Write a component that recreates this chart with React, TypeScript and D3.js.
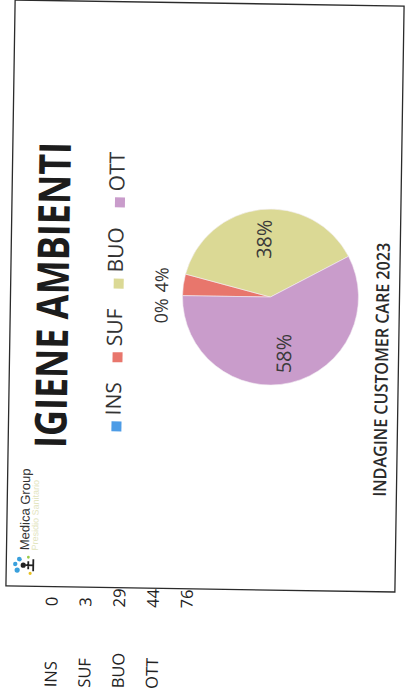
import React, { useEffect, useRef } from 'react';
import * as d3 from 'd3';

// values
const categories = ['INS', 'SUF', 'BUO', 'OTT'];
const counts = [0, 3, 29, 44];
const totalCount = 76;
const sliceColors = ['#4d9ce6', '#e8766c', '#dbd995', '#c99ccb'];

const chartTitle = 'IGIENE AMBIENTI';
const footerText = 'INDAGINE CUSTOMER CARE 2023';
const logoName = 'Medica Group';
const logoTagline = 'Presidio Sanitario';

const W = 406;
const H = 698;

// the printed chart sits sideways and a little crooked on the scan
const frame = { x: 10.5, y: 3, w: 389, h: 586 };
const skew = 0.9;

const FONT = "'Open Sans', 'DejaVu Sans', sans-serif";

export default function App() {
  const svgRef = useRef<SVGSVGElement>(null);

  useEffect(() => {
    if (!svgRef.current) return;
    const svg = d3.select(svgRef.current);
    svg.selectAll('*').remove();

    const fcx = frame.x + frame.w / 2;
    const fcy = frame.y + frame.h / 2;

    const sheet = svg.append('g')
      .attr('transform', `rotate(${skew},${fcx},${fcy})`);

    sheet.append('rect')
      .attr('x', frame.x)
      .attr('y', frame.y)
      .attr('width', frame.w)
      .attr('height', frame.h)
      .attr('fill', 'none')
      .attr('stroke', '#2b2b2b')
      .attr('stroke-width', 1.3);

    // upright chart space: x runs along the long side, y across
    const g = sheet.append('g')
      .attr('transform', `translate(${frame.x},${frame.y + frame.h}) rotate(-90)`);

    // title
    g.append('text')
      .attr('x', 138.6)
      .attr('y', 58)
      .attr('textLength', 306)
      .attr('lengthAdjust', 'spacingAndGlyphs')
      .style('font-family', FONT)
      .style('font-weight', 700)
      .style('font-size', '44px')
      .style('fill', '#1c1c1c')
      .text(chartTitle);

    // legend
    const legendG = g.append('g');
    const items: { x: number; w: number }[] = [];
    const marker = 10;
    const gapIn = 6;
    const gapOut = 20;
    const legendTexts = categories.map(c => legendG.append('text')
      .attr('y', 112)
      .style('font-family', FONT)
      .style('font-size', '21px')
      .style('fill', '#333')
      .text(c));
    let cursor = 0;
    legendTexts.forEach((t, i) => {
      const tw = (t.node() as SVGTextElement).getComputedTextLength();
      items.push({ x: cursor, w: tw });
      cursor += marker + gapIn + tw + (i < categories.length - 1 ? gapOut : 0);
    });
    const legendStart = 296 - cursor / 2;
    categories.forEach((c, i) => {
      legendG.append('rect')
        .attr('x', legendStart + items[i].x)
        .attr('y', 103)
        .attr('width', marker)
        .attr('height', marker)
        .attr('fill', sliceColors[i]);
      legendTexts[i].attr('x', legendStart + items[i].x + marker + gapIn);
    });

    // pie
    const cx = 293;
    const cy = 260;
    const r = 88;
    const pie = d3.pie<number>().sort(null).value(d => d);
    const arcs = pie(counts);
    const arc = d3.arc<d3.PieArcDatum<number>>().innerRadius(0).outerRadius(r);
    const labelArc = d3.arc<d3.PieArcDatum<number>>().innerRadius(r * 0.66).outerRadius(r * 0.66);
    const pct = d3.format('.0%');

    const pieG = g.append('g').attr('transform', `translate(${cx},${cy})`);
    pieG.selectAll('path')
      .data(arcs)
      .enter()
      .append('path')
        .attr('d', arc)
        .attr('fill', (_d, i) => sliceColors[i])
        .attr('stroke', '#f4eef4')
        .attr('stroke-width', 0.6);

    // big slices: label inside
    arcs.forEach((a, i) => {
      if (counts[i] / totalCount < 0.1) return;
      const [lx, ly] = labelArc.centroid(a);
      pieG.append('text')
        .attr('x', lx)
        .attr('y', ly)
        .attr('dy', '0.36em')
        .attr('text-anchor', 'middle')
        .style('font-family', FONT)
        .style('font-size', '20px')
        .style('fill', '#3a3a3a')
        .text(pct(counts[i] / totalCount));
    });

    // small slices: labels in a row above the pie
    const small = counts.map((v, i) => i).filter(i => counts[i] / totalCount < 0.1);
    const smallTexts = small.map(i => g.append('text')
      .attr('y', cy - r - 14.5)
      .style('font-family', FONT)
      .style('font-size', '18px')
      .style('fill', '#333')
      .text(pct(counts[i] / totalCount)));
    const widths = smallTexts.map(t => (t.node() as SVGTextElement).getComputedTextLength());
    const rowGap = 6;
    const rowW = d3.sum(widths) + rowGap * (widths.length - 1);
    let sx = cx - rowW / 2;
    smallTexts.forEach((t, k) => {
      t.attr('x', sx);
      sx += widths[k] + rowGap;
    });

    // footer
    g.append('text')
      .attr('x', 95)
      .attr('y', 378.5)
      .attr('textLength', 254)
      .attr('lengthAdjust', 'spacingAndGlyphs')
      .style('font-family', FONT)
      .style('font-weight', 600)
      .style('font-size', '18px')
      .style('fill', '#2a2a2a')
      .text(footerText);

    // logo
    const logo = g.append('g');
    logo.append('circle').attr('cx', 16).attr('cy', 11).attr('r', 2.6).attr('fill', '#3aa0dc');
    logo.append('circle').attr('cx', 22).attr('cy', 9).attr('r', 2.2).attr('fill', '#3aa0dc');
    logo.append('circle').attr('cx', 27).attr('cy', 13).attr('r', 2.4).attr('fill', '#3aa0dc');
    logo.append('circle').attr('cx', 21).attr('cy', 17).attr('r', 2.6).attr('fill', '#222');
    logo.append('path').attr('d', 'M21 19 L21 27 M15 27 L27 27 M17 22 L25 22')
      .attr('stroke', '#222').attr('stroke-width', 1.8).attr('fill', 'none');
    logo.append('circle').attr('cx', 13).attr('cy', 24).attr('r', 1.6).attr('fill', '#e8c021');
    logo.append('circle').attr('cx', 29).attr('cy', 22).attr('r', 1.4).attr('fill', '#9acb4a');

    logo.append('text')
      .attr('x', 36)
      .attr('y', 22.5)
      .style('font-family', "'Liberation Sans', Arial, sans-serif")
      .style('font-size', '13px')
      .style('fill', '#333')
      .text(logoName);
    logo.append('text')
      .attr('x', 36)
      .attr('y', 31.5)
      .style('font-family', "'Liberation Sans', Arial, sans-serif")
      .style('font-size', '9px')
      .style('fill', '#e2e4bd')
      .text(logoTagline);

    // data table printed beside the chart
    const rowY = d3.scalePoint<number>()
      .domain(d3.range(counts.length + 1))
      .range([52, 187]);
    categories.forEach((c, i) => {
      g.append('text')
        .attr('x', -100.6)
        .attr('y', rowY(i) as number)
        .style('font-family', FONT)
        .style('font-size', '16.5px')
        .style('fill', '#222')
        .text(c);
    });
    [...counts, totalCount].forEach((v, i) => {
      g.append('text')
        .attr('x', -19.6)
        .attr('y', rowY(i) as number)
        .style('font-family', FONT)
        .style('font-size', '16.5px')
        .style('fill', '#222')
        .text(v);
    });
  }, []);

  return (
    <svg
      ref={svgRef}
      width={W}
      height={H}
      style={{ position: 'absolute', left: 0, top: 0, background: '#fff' }}
    />
  );
}
